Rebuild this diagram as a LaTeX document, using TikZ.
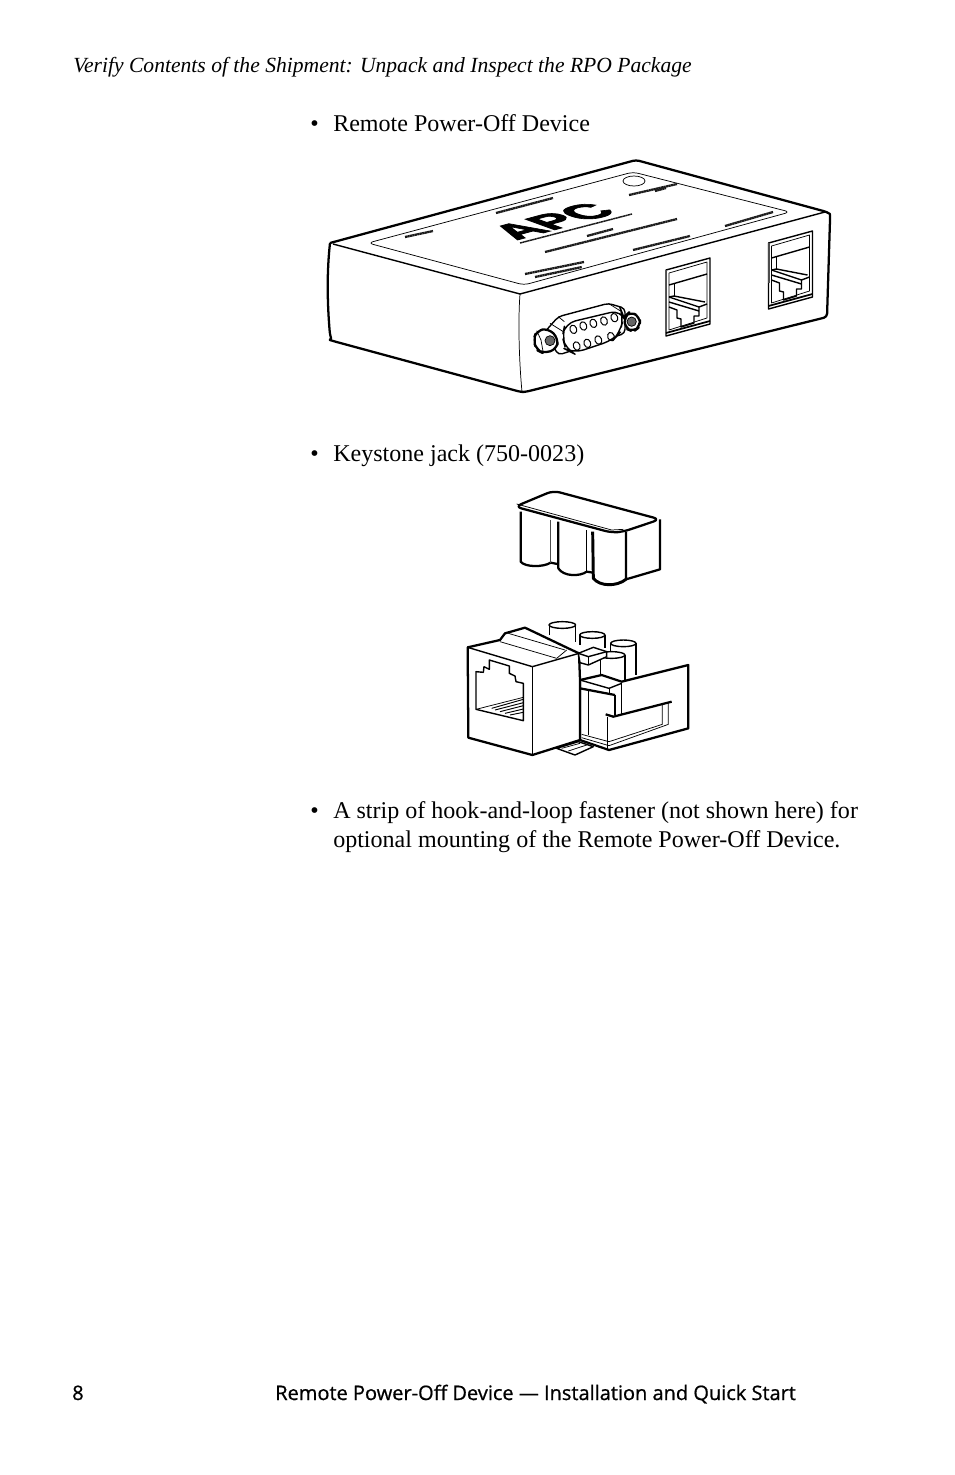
\documentclass[tikz,border=0pt]{standalone}
\usepackage{fontspec}
\setmainfont{Liberation Serif}
\newfontfamily\footfont[FakeBold=.8]{Open Sans}
\newfontfamily\logofont[FakeBold=3]{Liberation Sans Bold}
\tikzset{
	bodytext/.style={anchor=base west, inner sep=0pt, font=\fontsize{18.03}{21.8}\selectfont},
	headtext/.style={anchor=base west, inner sep=0pt, font=\fontsize{16.2}{20}\selectfont\itshape},
	foottext/.style={anchor=base west, inner sep=0pt, font=\fontsize{15}{18}\selectfont\footfont},
	heavy/.style={draw=black, line width=1.7pt, line join=round},
	medium/.style={draw=black, line width=1.05pt, line join=round},
	fine/.style={draw=black, line width=.55pt, line join=round},
	smudge/.style={draw=black!90, line width=1.7pt, dash pattern=on 1.6pt off .3pt},
	jackport/.pic={
		\draw[medium, fill=white] (6,20) -- (50,8) -- (50,74) -- (6,86) -- cycle;
		\draw[fine] (9,23) -- (47,12) -- (47,68);
		\draw[fine] (9,23) -- (9,80) -- (47,68);
		\draw[medium] (9,35) -- (47,24);
		\draw[fine] (14,33) -- (14,46);
		\draw[medium] (9,47) -- (14,46) -- (45,52);
		\draw[medium] (9,47) -- (39,57) -- (47,54);
		\draw[medium] (9,52) -- (39,61);
		\draw[medium] (39,57) -- (39,66) -- (34,66) -- (34,73) -- (21,77) -- (21,69) -- (17,68) -- (17,60) -- (9,57);
		\draw[line width=1.3pt] (6,83) -- (50,71);
		\draw[line width=1.3pt, black!70] (6.5,20) -- (6.5,60);
	},
}
\begin{document}
\begin{tikzpicture}[x=0.75pt, y=-0.75pt]
	\useasboundingbox (0,0) rectangle (954,1475);

	% page text
	\node [headtext] (head) at (73,72) {Verify Contents of the Shipment: Unpack and Inspect the RPO Package};
	\node [bodytext] (dotrpo) at (310,131) {•};
	\node [bodytext] (rpo) at (333,131) {Remote Power-Off Device};
	\node [bodytext] (dotjack) at (310,461) {•};
	\node [bodytext] (jack) at (333,461) {Keystone jack (750-0023)};
	\node [bodytext] (dotstrip) at (310,818) {•};
	\node [bodytext] (strip) at (333,818) {A strip of hook-and-loop fastener (not shown here) for};
	\node [bodytext] (strip2) at (333,847) {optional mounting of the Remote Power-Off Device.};
	\node [foottext] (page) at (72,1400) {8};
	\node [foottext] (foot) at (275,1400) {Remote Power-Off Device — Installation and Quick Start};

	% device housing
	\draw [heavy, fill=white, rounded corners=2.5pt] (330,243) -- (636,160) -- (827,212) .. controls (830,214) and (830,216) .. (830,220) -- (827,317) -- (525,392) -- (521,392) -- (333,341) .. controls (330,340) and (331,338) .. (330,335) .. controls (327,300) and (327,270) .. (330,243);
	\draw [medium] (333,244) -- (520,294) -- (825,212);
	\draw [fine] (520,294) .. controls (518,320) and (519,360) .. (522,392);
	\draw [fine, rounded corners=4pt] (368,243) -- (633,172) -- (790,212) -- (524,285) -- cycle;
	\draw [fine] (634,181) ellipse (11 and 5);

	% printed labels
	\foreach \xa/\ya/\xb/\yb in {405/237/433/231, 496/213/553/198, 629/195/677/184, 587/236/613/229, 545/252/677/219, 633/250/690/236, 525/274/584/262, 535/277/582/267, 725/226/773/212, 655/191/666/188}
		\draw [smudge] (\xa,\ya) -- (\xb,\yb);
	\draw [smudge, line width=1.1pt] (520,243) -- (632,214);
	\node [inner sep=0pt, transform shape, cm={1.25,.34,-1.1,.4,(0,0)}, font=\fontsize{29}{29}\selectfont\logofont] (logo) at (553,221) {APC};

	% serial connector
	\begin{scope}[shift={(525,290)}, x=.25pt, y=-.25pt]
		\draw [medium, fill=white, rounded corners=3pt] (60,125) -- (100,80) -- (250,40) -- (300,55) -- (300,130) -- (100,195) -- cycle;
		\draw [fine] (100,80) -- (118,95);
		\draw [fine] (75,100) -- (115,125);
		\draw [fine] (250,40) -- (285,62);
		\draw [medium, fill=white, rounded corners=8pt] (120,100) -- (288,60) -- (296,80) -- (285,128) -- (265,150) -- (145,190) -- (122,178) -- (112,140) -- cycle;
		\foreach \px/\py in {145/118, 175/108, 205/100, 237/93, 268/83, 155/168, 187/160, 220/150, 258/140}
			\draw [medium, line width=.75pt, rotate around={20:(\px,\py)}] (\px,\py) ellipse (10 and 13);
		\draw [heavy, fill=white, rounded corners=5pt] (25,150) -- (35,122) -- (70,115) -- (100,145) -- (95,178) -- (55,190) -- (35,180) -- cycle;
		\draw [fine] (35,122) -- (48,150) -- (55,190);
		\draw [fine, fill=black!60] (75,152) circle (15);
		\draw [heavy, fill=white, rounded corners=5pt] (298,80) -- (315,65) -- (345,80) -- (345,110) -- (325,125) -- (300,115) -- cycle;
		\draw [fine, fill=black!60] (320,95) circle (14);
	\end{scope}

	% network ports
	\pic at (660,250) {jackport};
	\pic at (762.5,223) {jackport};

	% keystone cap
	\begin{scope}[shift={(500,480)}, x=.25pt, y=-.25pt]
		\draw [heavy] (378,155) -- (378,298) -- (480,268) -- (480,118);
		\draw [heavy] (62,95) -- (62,245) .. controls (75,262) and (130,262) .. (152,248) -- (172,252);
		\draw [medium, black!70] (152,120) -- (152,248);
		\draw [heavy] (175,125) -- (175,265) .. controls (190,290) and (240,290) .. (260,275) -- (280,278);
		\draw [fine] (260,150) -- (260,275);
		\draw [heavy, line width=2.2pt] (278,155) -- (280,295) .. controls (300,320) and (350,320) .. (378,298);
		\draw [heavy, fill=white, rounded corners=5pt] (45,80) -- (160,32) -- (480,118) -- (370,155) -- (335,158) -- cycle;
		\draw [fine] (50,72) -- (335,150) -- (370,148);
	\end{scope}

	% keystone jack
	\begin{scope}[shift={(455,615)}, x=.25pt, y=-.25pt]
		\draw [medium] (322,30) ellipse (40 and 10);
		\draw [medium] (283,30) -- (283,60);
		\draw [medium] (362,30) -- (362,80);
		\draw [medium] (412,60) ellipse (38 and 10);
		\draw [medium] (375,60) -- (375,90);
		\draw [medium] (450,60) -- (450,100);
		\draw [medium] (505,85) ellipse (38 and 10);
		\draw [medium] (467,85) -- (467,110);
		\draw [medium] (543,85) -- (543,180);
		\draw [medium, fill=white] (470,120) ellipse (40 and 10);
		\draw [medium] (437,125) -- (437,180);
		\draw [medium] (510,120) -- (510,195);

		\draw [medium, fill=white] (305,400) -- (360,420) -- (415,395) -- (370,380) -- cycle;
		\draw [fine] (320,400) -- (375,385);
		\draw [fine] (340,408) -- (395,390);

		% rear clip
		\draw [heavy, fill=white] (375,195) -- (440,180) -- (500,200) -- (700,150) -- (700,340) -- (462,405) -- (375,375) -- cycle;
		\draw [medium] (375,195) -- (462,220) -- (500,205);
		\draw [fine] (462,220) -- (462,240);
		\draw [heavy] (375,220) -- (480,240);
		\draw [medium] (480,240) -- (480,300);
		\draw [fine] (498,205) -- (498,298);
		\draw [fine] (400,228) -- (400,360);
		\draw [heavy] (452,298) -- (475,305) -- (650,260);
		\draw [medium] (458,305) -- (458,405);
		\draw [fine] (622,268) -- (622,328) -- (462,380) -- (380,358);
		\draw [fine] (640,262) -- (640,328) -- (462,392) -- (380,368);

		% jack body
		\draw [heavy, fill=white] (38,97) -- (135,75) -- (150,55) -- (210,38) -- (340,100) -- (372,115) -- (375,195) -- (375,375) -- (232,420) -- (40,368) -- cycle;
		\draw [medium] (38,97) -- (232,155);
		\draw [fine] (232,155) -- (232,420);
		\draw [medium] (232,155) -- (372,115);
		\draw [fine] (135,80) -- (305,130) -- (335,105);
		\draw [fine] (160,55) -- (330,105);
		\draw [medium, fill=white] (370,115) -- (415,97) -- (455,110) -- (455,125) -- (400,150) -- (375,143) -- cycle;
		\draw [medium] (370,115) -- (400,125) -- (455,110);
		\draw [medium] (400,125) -- (400,150);
	\end{scope}

	% opening of the jack
	\begin{scope}[shift={(460,640)}, x=.25pt, y=-.25pt]
		\draw [medium] (48,208) -- (48,95) -- (70,97) -- (72,80) -- (88,88) -- (88,60) -- (148,78) -- (148,100) -- (165,108) -- (168,125) -- (190,130) -- (190,242) -- cycle;
		\draw [fine] (48,208) -- (190,172);
		\foreach \xa/\ya/\yb in {95/205/178, 105/210/188, 120/215/197, 135/220/207, 150/225/217}
			\draw [medium, line width=.7pt] (\xa,\ya) -- (190,\yb);
	\end{scope}
\end{tikzpicture}
\end{document}
